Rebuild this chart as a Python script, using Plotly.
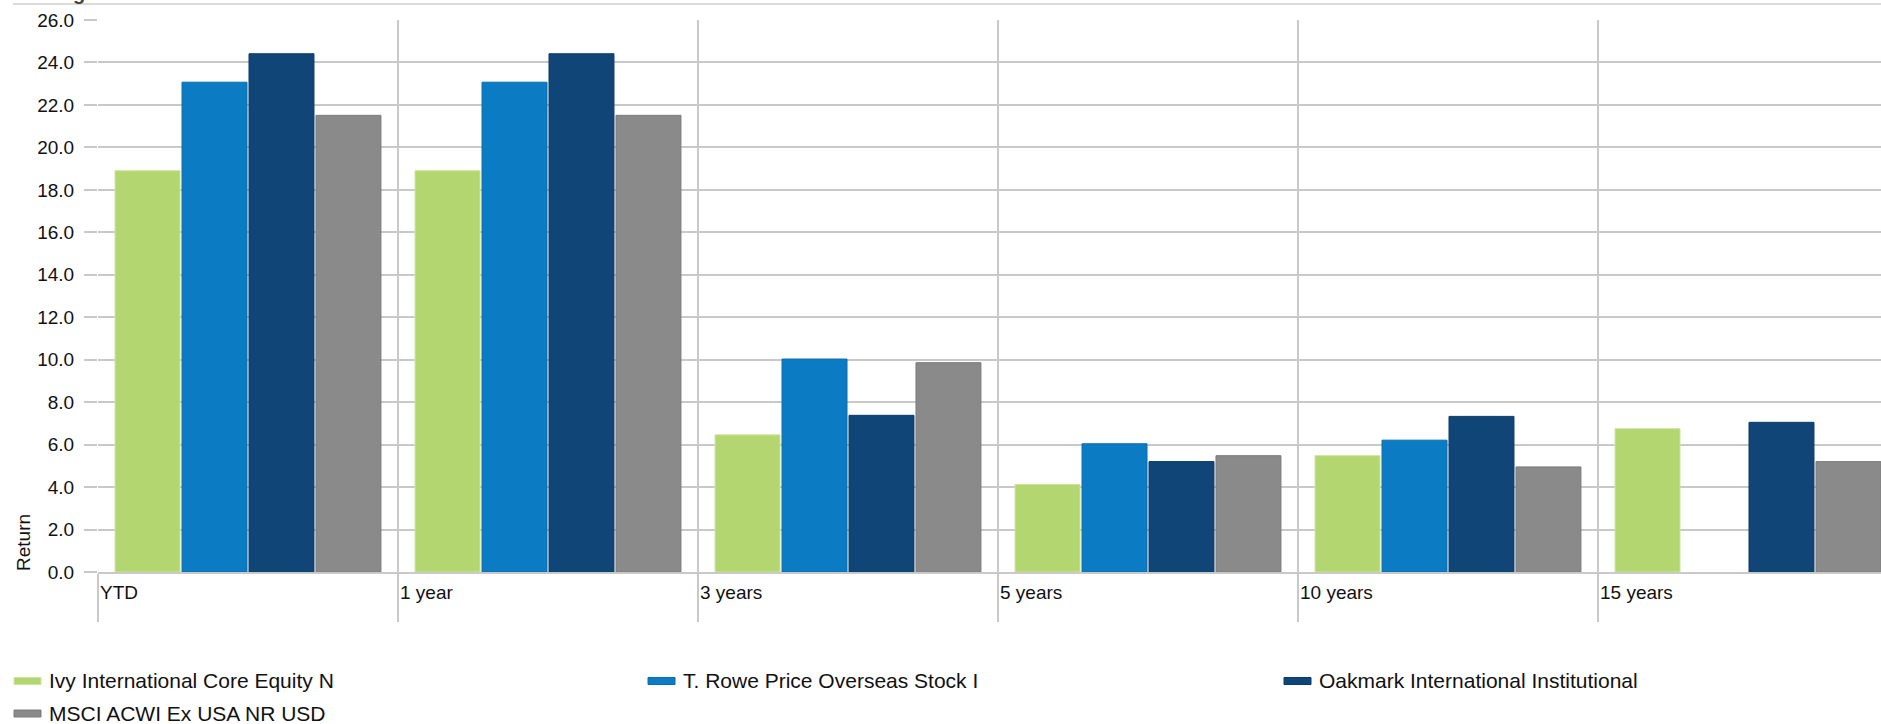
import plotly.graph_objects as go

categories = ["YTD", "1 year", "3 years", "5 years", "10 years", "15 years"]
series_names = [
    "Ivy International Core Equity N",
    "T. Rowe Price Overseas Stock I",
    "Oakmark International Institutional",
    "MSCI ACWI Ex USA NR USD",
]
ivy = [18.9, 18.9, 6.46, 4.12, 5.48, 6.75]
trowe = [23.07, 23.07, 10.03, 6.04, 6.21, None]
oakmark = [24.41, 24.41, 7.38, 5.20, 7.33, 7.05]
msci = [21.51, 21.51, 9.86, 5.48, 4.95, 5.20]
y_ticks = [0, 2, 4, 6, 8, 10, 12, 14, 16, 18, 20, 22, 24, 26]
y_title = "Return"
chart_title = "Trailing Returns"

fills = ["#b4d670", "#0b7cc4", "#0f4677", "#8a8a8a"]
edges = ["#cbe59c", "#0a6cab", "#0b3b64", "#7c7c7c"]

W, H = 1881, 724
L, T, B = 98, 20, 152
PW, PH = W - L, H - T - B
CATW = 300.0
FONT = "Liberation Sans, Arial, sans-serif"
GRID = "#c9c9c9"


def px_x(p):
    return (p - L) / PW


def px_y(p):
    return (H - B - p) / PH


xpos = [i + 0.5 for i in range(len(categories))]
fig = go.Figure()
for name, vals, fc, ec in zip(series_names, [ivy, trowe, oakmark, msci], fills, edges):
    fig.add_trace(go.Bar(
        x=xpos, y=vals, name=name,
        marker=dict(color=fc, line=dict(color=ec, width=1)),
        showlegend=False,
    ))

annotations = []
for i, c in enumerate(categories):
    annotations.append(dict(
        x=i, xref="x", y=px_y(592), yref="paper", text=c, showarrow=False,
        xanchor="left", yanchor="middle", xshift=0,
        font=dict(family=FONT, size=19, color="#111"),
    ))
annotations.append(dict(
    x=px_x(23), xref="paper", y=px_y(543), yref="paper", text=y_title,
    textangle=-90, showarrow=False, xanchor="center", yanchor="middle",
    font=dict(family=FONT, size=19, color="#111"),
))
annotations.append(dict(
    x=px_x(12), xref="paper", y=px_y(6), yref="paper", text="<b>" + chart_title + "</b>",
    showarrow=False, xanchor="left", yanchor="bottom",
    font=dict(family=FONT, size=20, color="#444"),
))

shapes = [dict(type="line", xref="paper", yref="paper",
               x0=px_x(13), x1=1, y0=px_y(4), y1=px_y(4),
               line=dict(color="#cfcfcf", width=1.5))]

legend_pos = [(14, 681), (648, 681), (1284, 681), (14, 713.5)]
for (lx, ly), name, fc, ec in zip(legend_pos, series_names, fills, edges):
    shapes.append(dict(type="rect", xref="paper", yref="paper",
                       x0=px_x(lx), x1=px_x(lx + 27), y0=px_y(ly - 3.5), y1=px_y(ly + 3.5),
                       fillcolor=fc, line=dict(color=ec, width=1)))
    annotations.append(dict(
        x=px_x(lx + 33), xref="paper", y=px_y(ly), yref="paper", text=name,
        showarrow=False, xanchor="left", yanchor="middle",
        font=dict(family=FONT, size=21, color="#111"),
    ))

fig.update_layout(
    width=W, height=H,
    margin=dict(l=L, r=0, t=T, b=B, pad=0),
    paper_bgcolor="white", plot_bgcolor="white",
    barmode="group", bargap=0.107, bargroupgap=0.03,
    showlegend=False,
    annotations=annotations, shapes=shapes,
    xaxis=dict(
        range=[0, PW / CATW], tickvals=list(range(len(categories))),
        ticktext=["" for _ in categories], ticks="outside", ticklen=48,
        tickcolor=GRID, tickwidth=1.5, showgrid=True, gridcolor=GRID, gridwidth=1.5,
        showline=True, linecolor=GRID, linewidth=1.5, zeroline=False,
        fixedrange=True,
    ),
    yaxis=dict(
        range=[0, 26], tickvals=y_ticks, tickformat=".1f",
        ticks="outside", ticklen=13, tickcolor=GRID, tickwidth=1.5,
        showgrid=True, gridcolor=GRID, gridwidth=1.5, zeroline=False,
        showline=False, ticklabelstandoff=6,
        tickfont=dict(family=FONT, size=19, color="#111"),
        fixedrange=True,
    ),
)

fig.write_html("out.html")
